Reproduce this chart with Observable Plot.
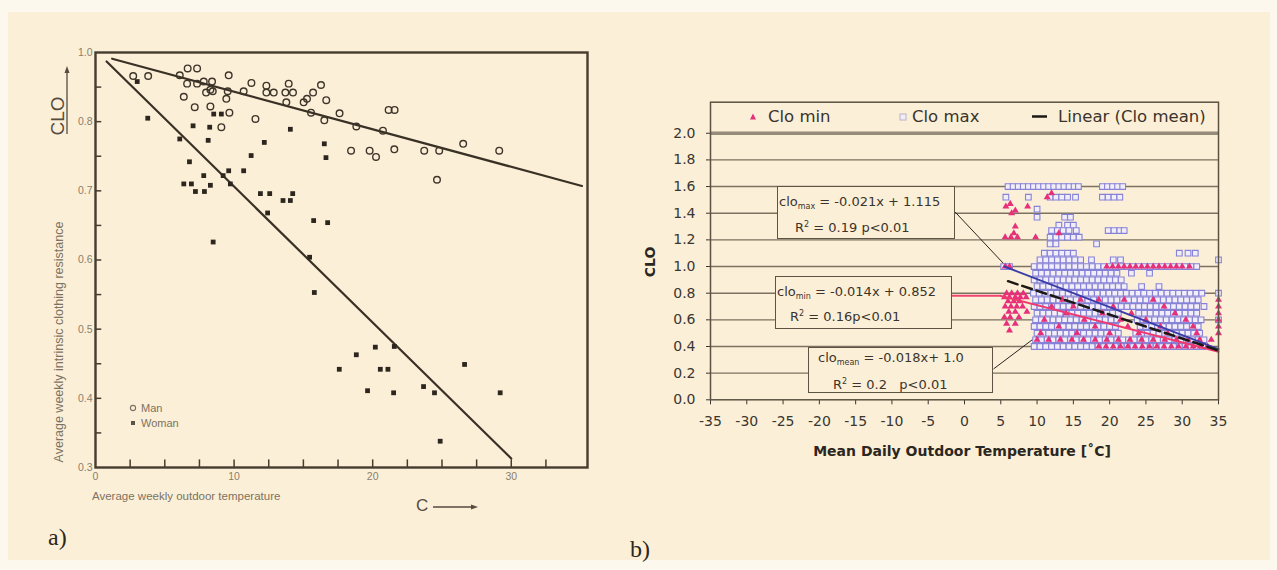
<!DOCTYPE html>
<html><head><meta charset="utf-8">
<script src="https://cdn.jsdelivr.net/npm/d3@7"></script>
<script src="https://cdn.jsdelivr.net/npm/@observablehq/plot@0.6"></script>
<style>
body{margin:0;background:#fdf8ee;}
#wrap{position:relative;width:1277px;height:570px;overflow:hidden;}
#bg{position:absolute;left:8px;top:12px;width:1262px;height:548px;background:#fcefd7;}
.abs{position:absolute;white-space:nowrap;line-height:1;}
.box{position:absolute;box-sizing:border-box;border:1.5px solid #5e5444;background:#fcefd7;}
.box .ln{position:absolute;white-space:nowrap;line-height:1;transform:translate(0,-50%);font-family:"DejaVu Sans",sans-serif;font-size:13px;color:#3a342c;}
sub{font-size:8px;vertical-align:-3px;}
sup{font-size:8px;vertical-align:5px;}
</style></head><body>
<div id="wrap"><div id="bg"></div></div>
<script>
// ---------- Panel a data ----------
const aXTicks = [0, 10, 20, 30];
const aXMarks = [2.5, 5, 7.5, 10, 12.5, 15, 17.5, 20, 22.5, 25, 27.5, 30, 32.5];
const aYTicks = [0.3, 0.4, 0.5, 0.6, 0.7, 0.8, 0.9];
const aYTickLabels = ["0.3", "0.4", "0.5", "0.6", "0.7", "0.8", "1.0"];
const aYMarks = [0.35, 0.4, 0.45, 0.5, 0.55, 0.6, 0.65, 0.7, 0.75, 0.8, 0.85];
const men = [
  [2.72,0.866],[3.80,0.866],[6.08,0.867],[6.65,0.877],[7.33,0.877],[6.61,0.855],[7.33,0.855],[7.81,0.858],
  [8.41,0.858],[7.98,0.842],[8.46,0.844],[8.29,0.846],[9.61,0.867],[9.54,0.844],[9.44,0.833],[6.37,0.836],
  [7.16,0.821],[8.29,0.822],[9.66,0.813],[9.08,0.792],[10.69,0.844],[11.25,0.856],[12.33,0.852],[12.33,0.842],
  [12.86,0.842],[13.70,0.842],[14.25,0.842],[13.94,0.855],[13.77,0.828],[11.54,0.804],[15.02,0.828],[15.26,0.833],
  [15.70,0.842],[16.27,0.853],[16.65,0.831],[15.55,0.813],[16.51,0.802],[17.61,0.812],[18.82,0.793],[18.44,0.758],
  [21.15,0.817],[21.58,0.817],[20.74,0.787],[19.78,0.758],[20.24,0.749],[21.56,0.760],[23.72,0.758],[24.80,0.758],
  [26.53,0.768],[29.13,0.758],[24.64,0.716]
];
const women = [
  [3.01,0.858],[3.77,0.805],[6.08,0.775],[7.04,0.794],[8.24,0.792],[8.13,0.773],[8.53,0.811],[9.08,0.811],
  [6.78,0.742],[6.37,0.710],[6.92,0.710],[7.21,0.699],[7.86,0.699],[7.81,0.722],[8.29,0.708],[9.21,0.722],
  [9.61,0.729],[9.73,0.710],[10.69,0.729],[11.23,0.751],[12.18,0.770],[14.06,0.789],[11.90,0.696],[12.57,0.696],
  [13.53,0.686],[14.06,0.686],[14.23,0.696],[12.42,0.668],[16.51,0.768],[16.63,0.748],[15.74,0.657],[16.75,0.654],
  [8.49,0.626],[15.45,0.604],[15.79,0.553],[18.82,0.463],[17.59,0.442],[20.19,0.474],[21.56,0.475],[20.55,0.442],
  [21.10,0.442],[26.63,0.449],[19.63,0.411],[21.51,0.408],[23.67,0.417],[24.46,0.408],[29.20,0.408],[24.87,0.338]
];
const menFit = [[1.2,0.891],[35.1,0.707]];
const womenFit = [[0.8,0.887],[30.0,0.313]];

// ---------- Panel b data ----------
const bXTicks = [-35,-30,-25,-20,-15,-10,-5,0,5,10,15,20,25,30,35];
const bYTicks = [0,0.2,0.4,0.6,0.8,1.0,1.2,1.4,1.6,1.8,2.0];
const bGrid = [0.2,0.4,0.6,0.8,1.0,1.2,1.4,1.6,1.8];
const maxLevels = [1.60,1.52,1.43,1.37,1.31,1.27,1.22,1.17,1.10,1.05,1.00,0.95,0.90,0.85,0.80,0.75,0.70,0.65,0.60,0.55,0.50,0.45,0.40];
const maxTemps = [
  [6.0,6.7,7.4,8.1,8.8,9.5,10.2,10.9,11.6,12.3,13.0,13.7,14.4,15.1,15.7,19.0,19.7,20.4,21.1,21.8],
  [5.7,8.8,11.8,12.6,13.4,14.2,15.3,19.0,19.8,20.6,21.4],
  [10.0],
  [10.0,13.8,14.6],
  [13.0,14.2,15.0],
  [12.0,12.8,13.6,14.4,15.4,19.8,20.6,21.4,22.0],
  [11.8,12.6,13.4,14.2,15.0,15.8],
  [11.8,12.6,18.2],
  [11.0,11.8,12.6,13.4,14.2,15.0,29.6,30.8,31.8],
  [10.4,11.2,12.0,12.8,13.6,14.4,15.2,16.0,17.5,20.5,21.5,35.0],
  [5.4,6.2,9.6,10.4,11.2,12.0,12.8,13.6,14.4,15.2,16.0,16.8,17.6,18.4,19.2,20.0,20.8,21.6,22.4,23.2,24.0,24.8,25.6,26.4,27.2,28.0,28.8,29.6,30.4,31.2,32.0],
  [9.8,10.6,11.4,12.2,13.0,13.8,14.6,15.4,16.2,17.0,17.8,18.6,19.4,20.2,21.0,23.0,25.5],
  [9.6,10.4,11.2,12.0,12.8,13.6,14.4,15.2,16.0,16.8,17.6,18.4,19.2,20.0,20.8,21.6],
  [10.0,10.8,11.6,12.4,13.2,14.0,14.8,15.6,16.4,17.2,18.0,18.8,19.6,20.4,21.2,22.0,24.4,26.8],
  [9.5,10.3,11.1,11.9,12.7,13.5,14.3,15.1,15.9,16.7,17.5,18.3,19.1,19.9,20.7,21.5,22.3,23.1,23.9,24.7,25.5,26.3,27.1,27.9,28.7,29.5,30.3,31.1,31.9,32.7,35.0],
  [9.8,10.6,11.4,12.2,13.0,13.8,14.6,15.4,16.2,17.0,17.8,18.6,19.4,20.2,21.0,21.8,22.6,23.4,24.2,25.0,25.8,26.6,27.4,28.2,29.0,29.8,30.6,31.4,32.2],
  [9.6,10.4,11.2,12.0,12.8,13.6,14.4,15.2,16.0,16.8,17.6,18.4,19.2,20.0,20.8,21.6,22.4,23.2,24.0,24.8,25.6,26.4,27.2,28.0,28.8,29.6,30.4,31.2,32.0,33.0],
  [10.0,10.8,11.6,12.4,13.2,14.0,14.8,15.6,16.4,17.2,18.0,18.8,19.6,20.4,21.2,24.0,24.8,25.6,26.4,27.2,28.0,28.8,29.6,30.4,31.2,32.0],
  [9.8,10.6,11.4,12.2,13.0,13.8,14.6,15.4,16.2,17.0,17.8,18.6,19.4,20.2,21.0,23.8,24.6,25.4,26.2,27.0,27.8,28.6,29.4,30.2,31.0,31.8,32.6,35.0],
  [9.6,10.4,11.2,12.0,12.8,13.6,14.4,15.2,16.0,16.8,17.6,18.4,19.2,20.0,20.8,24.2,25.0,25.8,26.6,27.4,28.2,29.0,29.8,30.6,31.4,32.2],
  [10.0,10.8,11.6,12.4,13.2,14.0,14.8,15.6,16.4,17.2,18.0,18.8,19.6,20.4,21.2,23.6,24.4,25.2,26.0,26.8,27.6,28.4,29.2,30.0,30.8,31.6,32.4],
  [9.8,10.6,11.4,12.2,13.0,13.8,14.6,15.4,16.2,17.0,17.8,18.6,19.4,20.2,21.0,21.8,22.6,23.4,24.2,25.0,25.8,26.6,27.4,28.2,29.0,29.8,30.6,31.4,32.2,33.0],
  [9.6,10.4,11.2,12.0,12.8,13.6,14.4,15.2,16.0,16.8,17.6,18.4,19.2,20.0,20.8,21.6,22.4,23.2,24.0,24.8,25.6,26.4,27.2,28.0,28.8,29.6,30.4,31.2,32.0,32.8]
];
const minLevels = [1.55,1.52,1.47,1.45,1.42,1.40,1.30,1.25,1.22,1.00,0.80,0.77,0.75,0.74,0.70,0.66,0.65,0.62,0.60,0.57,0.55,0.52,0.50,0.45,0.40];
const minTemps = [
  [12.0],[11.4],[6.3],[5.7,8.7],[7.0],[6.5],[7.0],[6.8,13.0],[5.6,6.4,7.3,9.8],
  [5.6,6.2,19.6,20.4,21.2,22.0,22.8,23.6,24.4,25.2,26.0,26.8,27.6,28.4,29.2,30.0,31.0],
  [5.8,6.5,7.3,8.1],
  [5.5,6.2,7.0,7.7,8.5],
  [13.5,16.0,18.5,22.0,26.0,35.0],
  [6.0,6.8,7.6],
  [5.6,6.4,7.2,8.0,12.0,15.0,20.5,27.5,35.0],
  [6.1,7.0,8.6],
  [14.0,19.0,23.0,29.0,35.0],
  [5.5,6.3,7.5],
  [11.0,16.5,21.5,25.0,30.5,35.0],
  [5.8,7.0],
  [13.0,18.0,22.5,27.0,31.5,35.0],
  [6.2],
  [10.5,15.5,20.0,24.0,28.0,32.0,35.0],
  [10.0,11.6,13.2,14.8,16.4,18.0,19.6,21.2,22.8,24.4,26.0,27.6,29.2,30.8,32.4,34.0],
  [18.5,19.5,20.5,21.5,22.5,23.5,24.5,25.5,26.5,27.5,28.5,29.5,30.5,31.5,32.5,33.5]
];
const cloMaxFit = [[5.5,1.0],[35,0.38]];
const cloMinFit = [[5.0,0.78],[35,0.36]];
const cloMeanFit = [[6.0,0.89],[35,0.37]];
const leaderMax = [[-1.24,1.406],[5.37,1.023]];
const leaderMin = [[-1.65,0.78],[5.0,0.78]];
const leaderMean = [[4.04,0.233],[15.0,0.683]];

// ---------- build ----------
const wrap = document.getElementById("wrap");
const yLabA = new Map(aYTicks.map((t, i) => [t, aYTickLabels[i]]));
const X = d => d[0], Y = d => d[1];
const ink = "#463c30";

function place(svg, left) {
  svg.style.position = "absolute";
  svg.style.left = left + "px";
  svg.style.top = "0px";
  wrap.appendChild(svg);
}

const plotA = Plot.plot({
  width: 620, height: 570,
  marginLeft: 95, marginRight: 33, marginTop: 52, marginBottom: 103,
  style: {background: "transparent", fontFamily: "'Liberation Sans', Arial, sans-serif", fontSize: "10.5px", color: "#8a7f6c"},
  x: {domain: [0, 35.5], ticks: aXTicks, tickSize: 0, tickPadding: 5, label: null},
  y: {domain: [0.3, 0.9], ticks: aYTicks, tickSize: 0, tickPadding: 3, tickFormat: d => yLabA.get(d), label: null},
  marks: [
    Plot.ruleX(aXMarks, {y1: 0.3, y2: 0.311, stroke: ink, strokeWidth: 1.5}),
    Plot.ruleY(aYMarks, {x1: 0, x2: 0.45, stroke: ink, strokeWidth: 1.5}),
    Plot.line(menFit, {x: X, y: Y, stroke: "#3a3126", strokeWidth: 2.2}),
    Plot.line(womenFit, {x: X, y: Y, stroke: "#3a3126", strokeWidth: 2.2}),
    Plot.dot(men, {x: X, y: Y, r: 3.3, stroke: "#3d352a", strokeWidth: 1.4, fill: "none"}),
    Plot.dot(women, {x: X, y: Y, symbol: "square", r: 2.7, fill: "#2c261e"}),
    Plot.frame({stroke: ink, strokeWidth: 2.4})
  ]
});
place(plotA, 0);

const cloMax = maxLevels.flatMap((c, i) => maxTemps[i].map(t => [t, c]));
const cloMin = minLevels.flatMap((c, i) => minTemps[i].map(t => [t, c]));

const plotB = Plot.plot({
  width: 657, height: 570,
  marginLeft: 90, marginRight: 59, marginTop: 101.7, marginBottom: 170.7,
  style: {background: "transparent", fontFamily: "'DejaVu Sans', sans-serif", fontSize: "14px", color: "#3a3630"},
  x: {domain: [-35, 35], ticks: bXTicks, tickSize: 5, tickPadding: 11, tickFormat: d => String(d), label: null},
  y: {domain: [0, 2.233], ticks: bYTicks, tickSize: 4, tickPadding: 11, tickFormat: d => d.toFixed(1), label: null},
  marks: [
    Plot.ruleY(bGrid, {stroke: "#7b7261", strokeWidth: 1.4}),
    Plot.ruleY([2.0], {stroke: "#958c7c", strokeWidth: 3.5}),
    Plot.line(leaderMax, {x: X, y: Y, stroke: "#2a251f", strokeWidth: 1}),
    Plot.line(leaderMean, {x: X, y: Y, stroke: "#2a251f", strokeWidth: 1}),
    Plot.dot(cloMax, {x: X, y: Y, symbol: "square", r: 3.2, stroke: "#8682d8", strokeWidth: 1.1, fill: "#f2eef7"}),
    Plot.dot(cloMin, {x: X, y: Y, symbol: "triangle", r: 2.6, fill: "#e6307a"}),
    Plot.line(leaderMin, {x: X, y: Y, stroke: "#ee4470", strokeWidth: 2}),
    Plot.line(cloMinFit, {x: X, y: Y, stroke: "#ee3a6e", strokeWidth: 2}),
    Plot.line(cloMaxFit, {x: X, y: Y, stroke: "#3b3ea8", strokeWidth: 2}),
    Plot.line(cloMeanFit, {x: X, y: Y, stroke: "#1c1814", strokeWidth: 2.5, strokeDasharray: "10,5"}),
    Plot.frame({stroke: "#5b5242", strokeWidth: 1.5})
  ]
});
place(plotB, 620);

// ---------- text overlays ----------
function txt(html, x, y, css, anchor = "left", rot = 0) {
  const d = document.createElement("div");
  d.className = "abs";
  d.innerHTML = html;
  d.style.left = x + "px"; d.style.top = y + "px";
  const tx = anchor === "center" ? "-50%" : anchor === "right" ? "-100%" : "0";
  d.style.transform = `translate(${tx},-50%)` + (rot ? ` rotate(${rot}deg)` : "");
  Object.assign(d.style, css);
  wrap.appendChild(d);
  return d;
}
function svgOverlay(inner) {
  const s = document.createElementNS("http://www.w3.org/2000/svg", "svg");
  s.setAttribute("width", 1277); s.setAttribute("height", 570);
  s.style.position = "absolute"; s.style.left = "0"; s.style.top = "0"; s.style.pointerEvents = "none";
  s.innerHTML = inner;
  wrap.appendChild(s);
}
const sansA = {fontFamily: "'Liberation Sans', Arial, sans-serif"};
// panel a
txt("CLO", 57, 116, {...sansA, fontSize: "19px", color: "#554b3e"}, "center", -90);
txt("Average weekly intrinsic clothing resistance", 59, 342, {...sansA, fontSize: "12.5px", color: "#7c7262"}, "center", -90);
txt("Average weekly outdoor temperature", 92, 497, {...sansA, fontSize: "11.5px", color: "#7c7262"});
txt("C", 416, 505, {...sansA, fontSize: "17px", color: "#554b3e"});
txt("Man", 141, 408, {...sansA, fontSize: "11px", color: "#7c7262"});
txt("Woman", 141, 423, {...sansA, fontSize: "11px", color: "#7c7262"});
txt("a)", 48, 537, {fontFamily: "'Liberation Serif', serif", fontSize: "24px", color: "#2b2620"});
// panel b
txt("CLO", 650, 262, {fontFamily: "'DejaVu Sans', sans-serif", fontWeight: "bold", fontSize: "14px", color: "#2b2620"}, "center", -90);
txt("Mean Daily Outdoor Temperature [˚C]", 962, 451, {fontFamily: "'DejaVu Sans', sans-serif", fontWeight: "bold", fontSize: "14px", color: "#2b2620"}, "center");
txt("Clo min", 768, 117, {fontFamily: "'DejaVu Sans', sans-serif", fontSize: "16.5px", color: "#3a342c"});
txt("Clo max", 912, 117, {fontFamily: "'DejaVu Sans', sans-serif", fontSize: "16.5px", color: "#3a342c"});
txt("Linear (Clo mean)", 1058, 117, {fontFamily: "'DejaVu Sans', sans-serif", fontSize: "16.5px", color: "#3a342c"});
txt("b)", 630, 549, {fontFamily: "'Liberation Serif', serif", fontSize: "24px", color: "#2b2620"});

svgOverlay(`
  <line x1="67" y1="134" x2="67" y2="70" stroke="#554b3e" stroke-width="1.3"/>
  <path d="M67,66 L64.5,73 L69.5,73 Z" fill="#554b3e"/>
  <line x1="433" y1="507" x2="474" y2="507" stroke="#554b3e" stroke-width="1.3"/>
  <path d="M478,507 L471,504.5 L471,509.5 Z" fill="#554b3e"/>
  <circle cx="133" cy="408" r="2.6" fill="none" stroke="#7c7262" stroke-width="1.1"/>
  <rect x="131" y="421" width="4" height="4" fill="#5c5346"/>
  <path d="M753,113.5 L756,119.5 L750,119.5 Z" fill="#e6307a"/>
  <rect x="900" y="114" width="6" height="6" fill="#f3eef6" stroke="#b8b4c8" stroke-width="1"/>
  <line x1="1032" y1="116.5" x2="1047" y2="116.5" stroke="#1c1814" stroke-width="2.5"/>
`);

function box(x, y, w, h, lines) {
  const b = document.createElement("div");
  b.className = "box";
  Object.assign(b.style, {left: x + "px", top: y + "px", width: w + "px", height: h + "px"});
  for (const [html, lx, ly] of lines) {
    const l = document.createElement("div");
    l.className = "ln"; l.innerHTML = html;
    l.style.left = lx + "px"; l.style.top = ly + "px";
    b.appendChild(l);
  }
  wrap.appendChild(b);
}
box(777, 186, 178, 53, [["clo<sub>max</sub> = -0.021x + 1.115", 1, 15.7], ["R<sup>2</sup> = 0.19 p&lt;0.01", 17, 39.7]]);
box(775, 276, 177, 53, [["clo<sub>min</sub> = -0.014x + 0.852", 1, 15.7], ["R<sup>2</sup> = 0.16p&lt;0.01", 14, 39]]);
box(808, 347, 185, 46, [["clo<sub>mean</sub> = -0.018x+ 1.0", 9, 11.3], ["R<sup>2</sup> = 0.2 &nbsp; p&lt;0.01", 24, 36.3]]);
</script>
</body></html>
